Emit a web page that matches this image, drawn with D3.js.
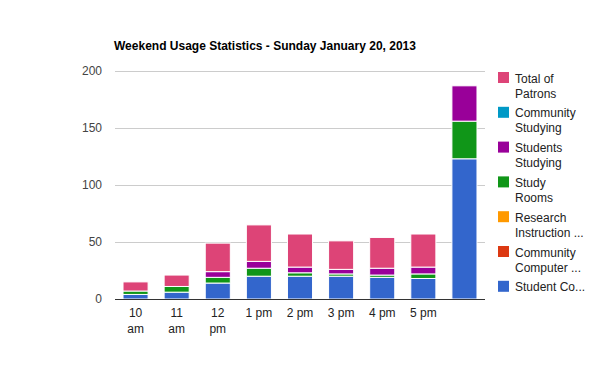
<!DOCTYPE html>
<html>
<head>
<meta charset="utf-8">
<script src="https://cdn.jsdelivr.net/npm/d3@7"></script>
<style>
  body { margin: 0; background: #fff; }
  svg { display: block; font-family: Arial, "Liberation Sans", sans-serif; }
</style>
</head>
<body>
<svg id="chart" width="600" height="371"></svg>
<script>
// ---- data ----
const categories = ["10 am", "11 am", "12 pm", "1 pm", "2 pm", "3 pm", "4 pm", "5 pm", ""];
const studentComputer     = [4, 6, 14, 20, 20, 20, 19, 18, 123];
const communityComputer   = [0, 0, 0, 0, 0, 0, 0, 0, 0];
const researchInstruction = [0, 0, 0, 0, 0, 0, 0, 0, 0];
const studyRooms          = [3, 5, 5, 7, 3, 2, 2, 4, 33];
const studentsStudying    = [0, 0, 5, 6, 5, 4, 6, 6, 31];
const communityStudying   = [0, 0, 0, 0, 0, 0, 0, 0, 0];
const totalPatrons        = [8, 10, 25, 32, 29, 25, 27, 29, 0];
const seriesNames = ["Student Co...", "Community Computer ...", "Research Instruction ...",
                     "Study Rooms", "Students Studying", "Community Studying", "Total of Patrons"];
const legendLines = [["Student Co..."], ["Community", "Computer ..."], ["Research", "Instruction ..."],
                     ["Study", "Rooms"], ["Students", "Studying"], ["Community", "Studying"], ["Total of", "Patrons"]];
const seriesColors = ["#3366cc", "#dc3912", "#ff9900", "#109618", "#990099", "#0099c6", "#dd4477"];
const yTicks = [0, 50, 100, 150, 200];
const title = "Weekend Usage Statistics - Sunday January 20, 2013";

// ---- build ----
const seriesValues = [studentComputer, communityComputer, researchInstruction, studyRooms,
                      studentsStudying, communityStudying, totalPatrons];
const keys = seriesNames.map((d, i) => "s" + i);
const rows = categories.map((c, i) => {
  const r = { cat: c, idx: i };
  keys.forEach((k, j) => r[k] = seriesValues[j][i]);
  return r;
});
const stacked = d3.stack().keys(keys)(rows);

const svg = d3.select("#chart");
const pLeft = 115, pRight = 485, pTop = 71, pBottom = 299;

const x = d3.scaleBand().domain(d3.range(categories.length)).range([pLeft, pRight]).paddingInner(0.39).paddingOuter(0.195);
const y = d3.scaleLinear().domain([0, 200]).range([pBottom, pTop]);

// title
svg.append("text").attr("x", 114).attr("y", 50)
  .attr("font-size", 12).attr("font-weight", "bold").attr("fill", "#000").text(title);

// gridlines
svg.append("g").selectAll("line").data(yTicks.filter(t => t > 0)).join("line")
  .attr("x1", pLeft).attr("x2", pRight)
  .attr("y1", d => Math.round(y(d)) + 0.5).attr("y2", d => Math.round(y(d)) + 0.5)
  .attr("stroke", "#cccccc").attr("stroke-width", 1);

// y axis labels via d3 axis
const yAxis = svg.append("g").attr("transform", `translate(${pLeft},0)`)
  .call(d3.axisLeft(y).tickValues(yTicks).tickSize(0).tickPadding(13));
yAxis.select(".domain").remove();
yAxis.selectAll("text").attr("font-size", 12).attr("fill", "#444").attr("font-family", "Arial, 'Liberation Sans', sans-serif");

// bars
svg.append("g").selectAll("g").data(stacked).join("g")
  .attr("fill", (d, i) => seriesColors[i])
  .selectAll("rect").data(d => d.filter(p => p[1] - p[0] > 0)).join("rect")
  .attr("x", d => x(d.data.idx))
  .attr("width", x.bandwidth())
  .attr("y", d => y(d[1]))
  .attr("height", d => y(d[0]) - y(d[1]))
  .attr("stroke", "#fff").attr("stroke-width", 1);

// baseline
svg.append("line").attr("x1", pLeft).attr("x2", pRight)
  .attr("y1", pBottom + 0.5).attr("y2", pBottom + 0.5)
  .attr("stroke", "#333").attr("stroke-width", 1);

// x labels
const xl = svg.append("g");
categories.forEach((c, i) => {
  const parts = c.length > 4 ? c.split(" ") : [c];
  const t = xl.append("text").attr("text-anchor", "middle").attr("font-size", 12).attr("fill", "#222")
    .attr("x", x(i) + x.bandwidth() / 2).attr("y", 317);
  parts.forEach((p, k) => t.append("tspan").attr("x", x(i) + x.bandwidth() / 2).attr("dy", k === 0 ? 0 : 16).text(p));
});

// legend (reversed order)
const lg = svg.append("g");
const order = d3.range(seriesNames.length).reverse();
order.forEach((si, k) => {
  const yy = 72 + k * 34.8;
  lg.append("rect").attr("x", 498).attr("y", yy).attr("width", 11).attr("height", 11).attr("fill", seriesColors[si]);
  const t = lg.append("text").attr("x", 515).attr("y", yy + 10.5).attr("font-size", 12).attr("fill", "#222");
  legendLines[si].forEach((ln, j) => t.append("tspan").attr("x", 515).attr("dy", j === 0 ? 0 : 15).text(ln));
});
</script>
</body>
</html>
